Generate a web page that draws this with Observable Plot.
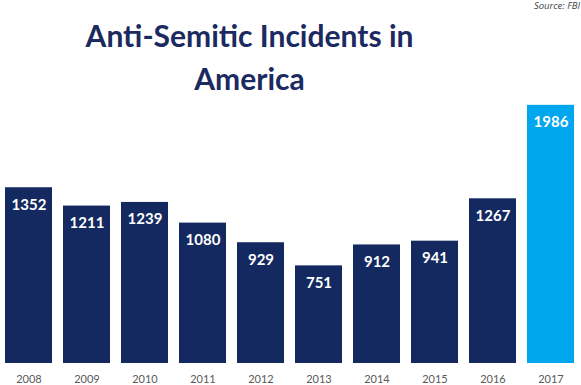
<!DOCTYPE html>
<html>
<head>
<meta charset="utf-8">
<script src="https://cdn.jsdelivr.net/npm/d3@7"></script>
<script src="https://cdn.jsdelivr.net/npm/@observablehq/plot@0.6"></script>
<style>
  html, body { margin: 0; padding: 0; background: #fff; }
  #wrap { position: relative; width: 581px; height: 385px; overflow: hidden; }
  #title { position: absolute; left: 0; top: 14px; width: 499px; text-align: center;
    font-family: Lato, sans-serif; font-weight: 700; font-size: 30px; line-height: 43px; color: #1b2a60; }
  #source { position: absolute; right: 1px; top: -1px; font-family: "Open Sans", sans-serif; font-style: italic;
    font-size: 9.5px; color: #404040; }
  #chart { position: absolute; left: 0; top: 0; }
</style>
</head>
<body>
<div id="wrap">
  <div id="chart"></div>
  <div id="title">Anti-Semitic Incidents in<br>America</div>
  <div id="source">Source: FBI</div>
</div>
<script>
const years = ["2008", "2009", "2010", "2011", "2012", "2013", "2014", "2015", "2016", "2017"];
const incidents = [1352, 1211, 1239, 1080, 929, 751, 912, 941, 1267, 1986];
const highlightYear = "2017";

const data = years.map((y, i) => ({year: y, value: incidents[i], hi: y === highlightYear}));

const chart = Plot.plot({
  width: 581,
  height: 385,
  marginTop: 103,
  marginBottom: 22,
  marginLeft: 2,
  marginRight: 5,
  style: {fontFamily: "Lato, sans-serif", background: "transparent"},
  x: {domain: years, paddingInner: 0.19, paddingOuter: 0, label: null},
  y: {domain: [0, 2000], axis: null},
  marks: [
    Plot.barY(data, {x: "year", y: "value", fill: d => d.hi ? "#00a6ee" : "#14295f"}),
    Plot.text(data, {x: "year", y: "value", text: d => String(d.value), dy: 17,
      fill: "white", fontWeight: "bold", fontSize: 15}),
    Plot.axisX({tickSize: 0, tickPadding: 12, fontSize: 11, color: "#595959", label: null})
  ]
});
document.getElementById("chart").appendChild(chart);
</script>
</body>
</html>
